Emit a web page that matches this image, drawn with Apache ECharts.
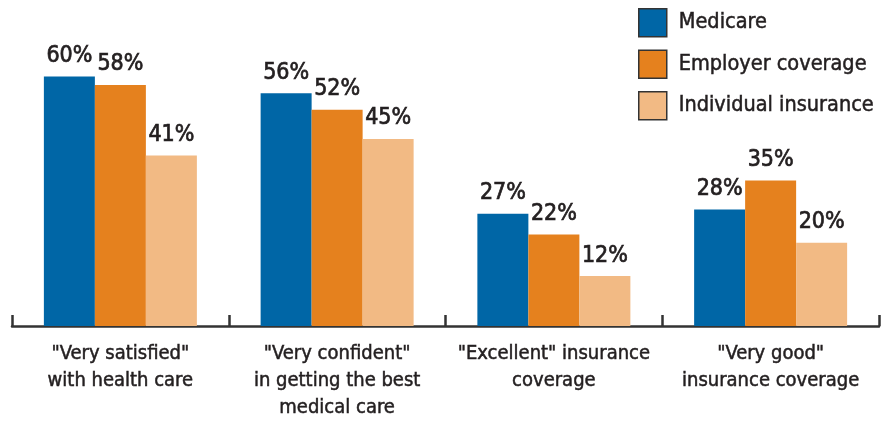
<!DOCTYPE html>
<html><head><meta charset="utf-8">
<script src="https://cdn.jsdelivr.net/npm/echarts@6/dist/echarts.min.js"></script>
<style>html,body{margin:0;padding:0;background:#fff}#c{width:890px;height:421px}</style>
</head><body><div id="c"></div>
<script>
const categories = ['"Very satisfied"\nwith health care', '"Very confident"\nin getting the best\nmedical care', '"Excellent" insurance\ncoverage', '"Very good"\ninsurance coverage'];
const seriesNames = ['Medicare', 'Employer coverage', 'Individual insurance'];
const medicare = [60, 56, 27, 28];
const employer = [58, 52, 22, 35];
const individual = [41, 45, 12, 20];
const colors = ['#0066a6', '#e5811e', '#f2ba84'];
const FONT = "'DejaVu Sans Condensed', 'Liberation Sans Narrow', sans-serif";
const TXT = '#231f20';
const chart = echarts.init(document.getElementById('c'));
const mk = (name, data, i) => ({
  name, type: 'bar', data, barWidth: 51, barGap: '0%',
  itemStyle: { color: colors[i] },
  label: { show: true, position: 'top', distance: 9, formatter: '{c}%', color: TXT, fontFamily: FONT, fontSize: 23,
    textBorderColor: TXT, textBorderWidth: 0.7 }
});
chart.setOption({
  animation: false,
  textStyle: { fontFamily: FONT },
  grid: { left: 12, right: 11, top: 35, bottom: 85 },
  legend: {
    orient: 'vertical', left: 633, top: 3, itemWidth: 28, itemHeight: 28, itemGap: 12,
    icon: 'rect',
    itemStyle: { borderColor: '#333', borderWidth: 1.5 },
    textStyle: { color: TXT, fontFamily: FONT, fontSize: 21.5, padding: [0, 0, 0, 7],
      textBorderColor: TXT, textBorderWidth: 0.5 },
    data: seriesNames
  },
  xAxis: {
    type: 'category', data: categories,
    axisLine: { lineStyle: { color: '#333', width: 2.5 } },
    axisTick: { show: true, inside: true, length: 11, lineStyle: { color: '#333', width: 2.5 } },
    axisLabel: { color: TXT, fontFamily: FONT, fontSize: 20, lineHeight: 27, margin: 14, interval: 0,
      textBorderColor: TXT, textBorderWidth: 0.5 }
  },
  yAxis: { type: 'value', min: 0, max: 70, show: false, splitLine: { show: false } },
  series: [mk(seriesNames[0], medicare, 0), mk(seriesNames[1], employer, 1), mk(seriesNames[2], individual, 2)]
});
</script></body></html>
